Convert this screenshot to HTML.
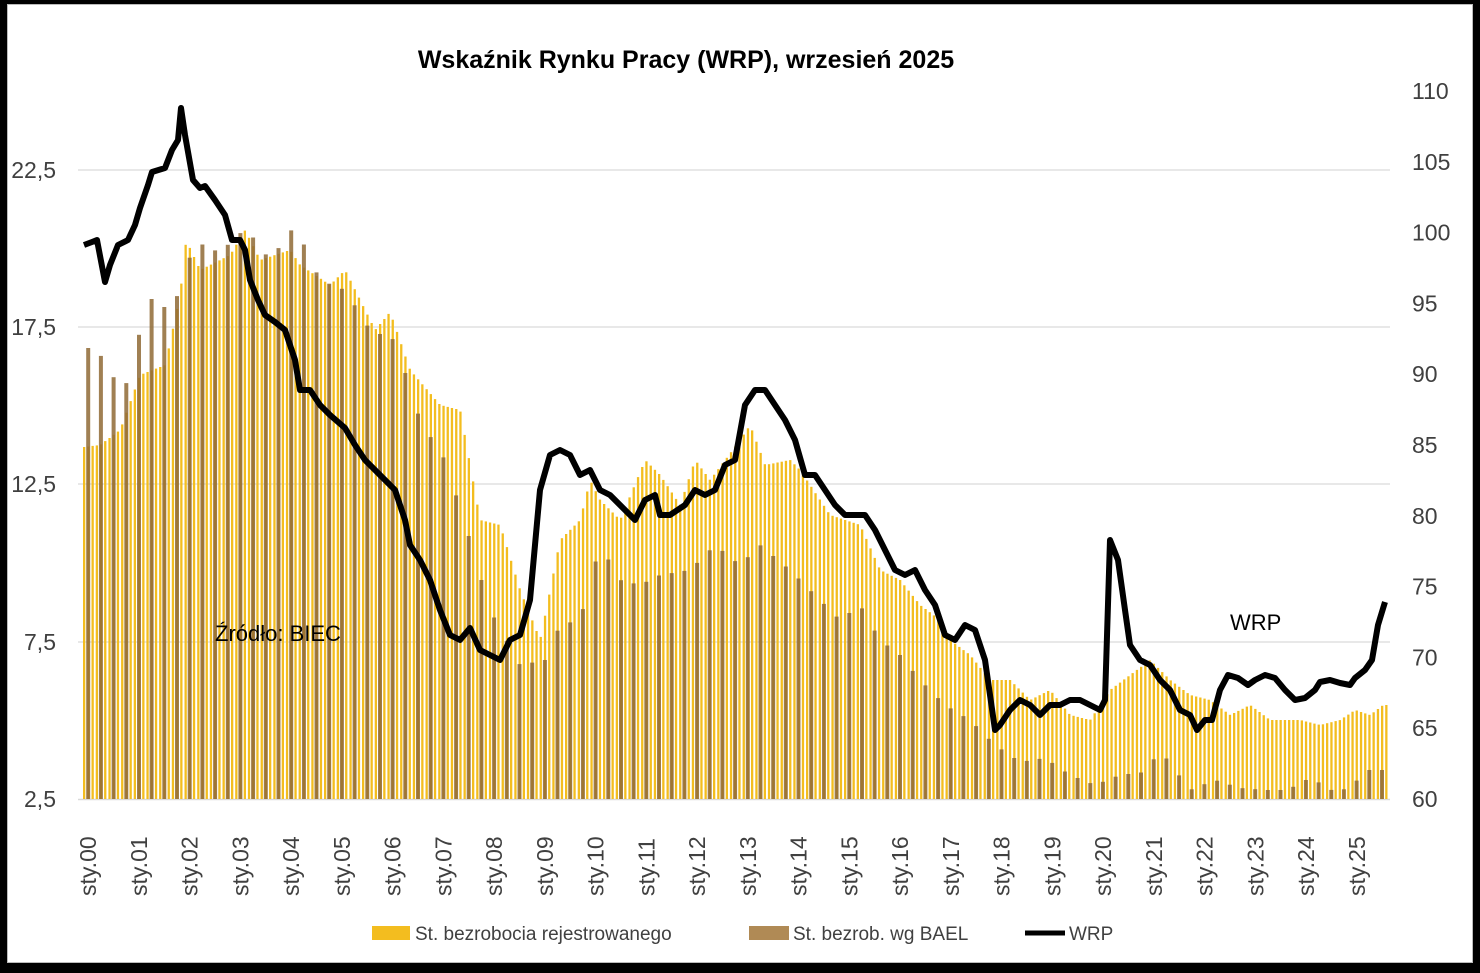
<!DOCTYPE html>
<html><head><meta charset="utf-8"><style>
html,body{margin:0;padding:0;background:#000;}
#wrap{position:absolute;left:7px;top:4px;width:1466px;height:959px;background:#fff;border:1px solid #bbb;box-sizing:border-box;}
svg{position:absolute;left:0;top:0}
text{font-family:"Liberation Sans","DejaVu Sans",sans-serif;}
</style></head><body>
<div id="wrap"></div>
<svg id="s" width="1480" height="973" xmlns="http://www.w3.org/2000/svg"></svg>
<script>
const s=document.getElementById('s');let h='';
[170,327,484,642].forEach(y=>{h+=`<line x1="78" x2="1390" y1="${y}" y2="${y}" stroke="#d9d9d9" stroke-width="1.3"/>`});
h+=`<line x1="78" x2="1390" y1="799.5" y2="799.5" stroke="#d9d9d9" stroke-width="1.5"/>`;
function interp(pts,x){if(x<=pts[0][0])return pts[0][1];for(let i=1;i<pts.length;i++){if(x<=pts[i][0]){const a=pts[i-1],b=pts[i];return a[1]+(b[1]-a[1])*(x-a[0])/(b[0]-a[0]);}}return pts[pts.length-1][1];}
const Y=[[84,447],[100,445],[120,430],[140,375],[165,365],[180,295],[186,240],[200,270],[230,255],[245,230],[260,260],[290,250],[300,265],[330,285],[345,270],[375,330],[390,312],[410,370],[440,405],[460,410],[480,520],[500,525],[520,590],[540,640],[560,540],[580,520],[590,480],[600,500],[620,520],[645,460],[660,475],[680,505],[695,460],[710,480],[740,440],[750,425],[765,465],[790,460],[800,470],[830,515],[860,525],[880,570],[900,580],[920,605],[940,620],[950,640],[970,655],[990,680],[1010,680],[1030,700],[1050,690],[1070,715],[1090,720],[1110,690],[1150,660],[1170,680],[1190,695],[1210,700],[1230,715],[1250,705],[1270,720],[1300,720],[1320,725],[1340,720],[1355,710],[1370,715],[1383,705]];
const B=[[93,348],[107,362],[120,392],[132,375],[145,300],[158,298],[170,315],[183,280],[195,240],[208,248],[220,252],[233,240],[246,228],[270,260],[295,225],[320,280],[345,290],[370,330],[395,340],[420,420],[445,460],[470,540],[490,610],[520,665],[545,660],[560,625],[580,620],[600,545],[620,580],[640,585],[660,575],[690,570],[715,545],[740,565],[760,545],[790,570],[810,590],[840,620],[860,605],[880,640],[900,655],[920,680],[945,705],[970,720],[995,745],[1020,762],[1045,758],[1070,775],[1095,785],[1120,775],[1145,772],[1160,750],[1175,770],[1190,790],[1215,780],[1240,788],[1265,790],[1290,790],[1300,780],[1315,780],[1330,790],[1350,789],[1365,770],[1383,770]];
for(let i=0;i<309;i++){const x=84+i*4.228;const y=interp(Y,x);h+=`<rect x="${(x-1).toFixed(1)}" y="${y.toFixed(1)}" width="2.3" height="${(799-y).toFixed(1)}" fill="#f3bd1f"/>`;}
for(let i=1;i<309;i+=3){const x=84+i*4.228;const y=interp(B,x);h+=`<rect x="${(x-2).toFixed(1)}" y="${y.toFixed(1)}" width="4" height="${(799-y).toFixed(1)}" fill="#8f6a35" opacity="0.85"/>`;}
const L=[[84,245],[92,242],[97,240],[105,282],[110,265],[118,245],[128,240],[135,225],[140,208],[148,185],[152,172],[165,168],[172,150],[178,140],[181,108],[185,135],[193,180],[200,188],[205,186],[215,200],[225,215],[232,240],[240,240],[245,250],[250,280],[258,300],[265,315],[275,322],[285,330],[295,360],[300,390],[310,390],[320,405],[330,415],[345,428],[355,445],[365,460],[375,470],[385,480],[395,490],[405,520],[410,545],[420,560],[430,580],[440,610],[450,635],[460,640],[470,628],[480,650],[490,655],[500,660],[510,640],[520,635],[530,600],[540,490],[550,455],[560,450],[570,455],[580,475],[590,470],[600,490],[610,495],[620,505],[635,520],[645,500],[655,495],[660,515],[670,515],[685,505],[695,490],[705,495],[715,490],[725,465],[735,460],[745,405],[755,390],[765,390],[775,405],[785,420],[795,440],[805,475],[815,475],[825,490],[835,505],[845,515],[855,515],[865,515],[875,530],[885,550],[895,570],[905,575],[915,570],[925,590],[935,605],[945,635],[955,640],[965,625],[975,630],[985,660],[995,730],[1000,725],[1010,710],[1020,700],[1030,705],[1040,715],[1050,705],[1060,705],[1070,700],[1080,700],[1090,705],[1100,710],[1105,700],[1110,540],[1118,560],[1125,610],[1130,645],[1140,660],[1150,665],[1160,680],[1170,690],[1180,710],[1190,715],[1197,730],[1205,720],[1212,720],[1220,690],[1228,675],[1238,678],[1248,685],[1255,680],[1265,675],[1275,678],[1285,690],[1295,700],[1305,698],[1315,690],[1320,682],[1330,680],[1340,683],[1350,685],[1355,678],[1365,670],[1372,660],[1378,625],[1385,602]];
h+=`<polyline fill="none" stroke="#000" stroke-width="6" stroke-linejoin="round" points="${L.map(p=>p.join(',')).join(' ')}"/>`;
[['22,5',170],['17,5',327],['12,5',484],['7,5',642],['2,5',799]].forEach(([t,y])=>{h+=`<text x="56" y="${y+8}" font-size="23" fill="#404040" text-anchor="end">${t}</text>`});
[110,105,100,95,90,85,80,75,70,65,60].forEach((v)=>{const y=799-(v-60)*14.16;h+=`<text x="1412" y="${y+8}" font-size="23" fill="#404040">${v}</text>`});
for(let k=0;k<26;k++){const x=88+k*50.76;const yy=String(k).padStart(2,'0');h+=`<text transform="translate(${x+8},896) rotate(-90)" font-size="23" fill="#404040">sty.${yy}</text>`}
h+=`<text x="686" y="68" font-size="25" font-weight="bold" text-anchor="middle" fill="#000">Wskaźnik Rynku Pracy (WRP), wrzesień 2025</text>`;
h+=`<text x="215" y="641" font-size="22" fill="#000">Źródło: BIEC</text>`;
h+=`<text x="1230" y="630" font-size="22" fill="#000">WRP</text>`;
h+=`<rect x="372" y="926" width="38" height="14" fill="#f3bd1f"/><text x="415" y="940" font-size="19" fill="#404040">St. bezrobocia rejestrowanego</text>`;
h+=`<rect x="749" y="926" width="40" height="14" fill="#b08a55"/><text x="793" y="940" font-size="19" fill="#404040">St. bezrob. wg BAEL</text>`;
h+=`<line x1="1025" x2="1065" y1="933" y2="933" stroke="#000" stroke-width="5"/><text x="1069" y="940" font-size="19" fill="#404040">WRP</text>`;
s.innerHTML=h;
</script>
</body></html>
